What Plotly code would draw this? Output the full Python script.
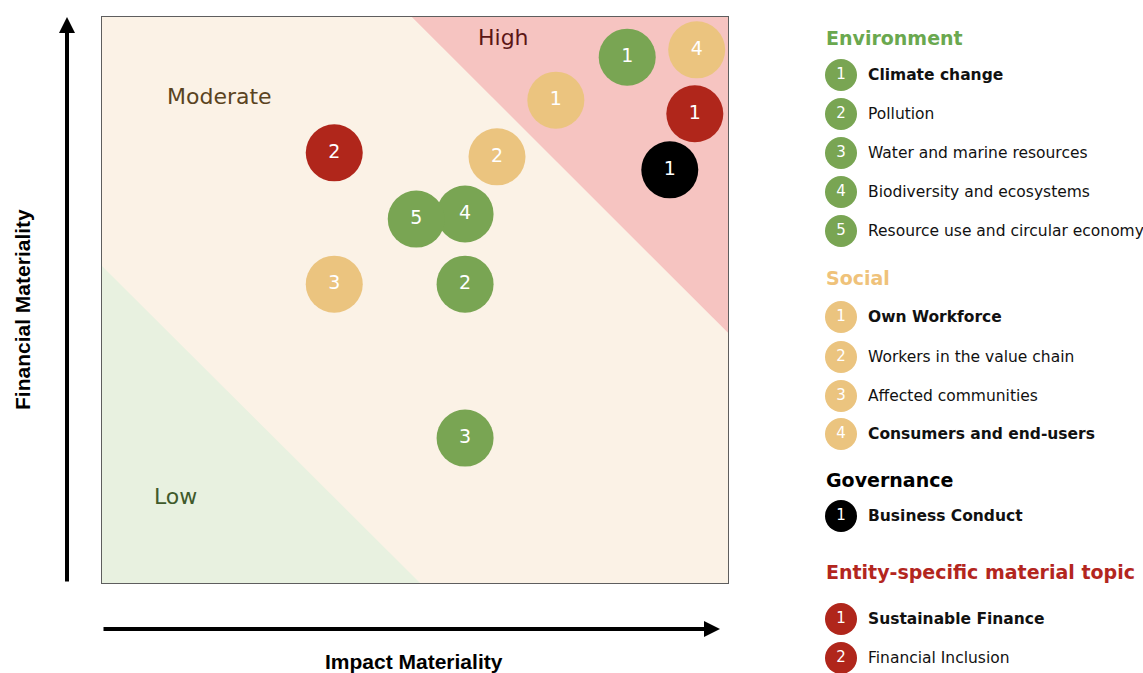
import plotly.graph_objects as go

W, H = 1143, 673

# ---------------- data ----------------
env_ids = ["1", "2", "3", "4", "5"]
env_topics = ["Climate change", "Pollution", "Water and marine resources",
              "Biodiversity and ecosystems", "Resource use and circular economy"]
env_bold = [True, False, False, False, False]
env_x = [8.39, 5.80, 5.80, 5.80, 5.02]
env_y = [9.29, 5.28, 2.56, 6.52, 6.43]

soc_ids = ["1", "2", "3", "4"]
soc_topics = ["Own Workforce", "Workers in the value chain", "Affected communities",
              "Consumers and end-users"]
soc_bold = [True, False, False, True]
soc_x = [7.25, 6.31, 3.71, 9.50]
soc_y = [8.53, 7.53, 5.28, 9.42]

gov_ids = ["1"]
gov_topics = ["Business Conduct"]
gov_bold = [True]
gov_x = [9.07]
gov_y = [7.30]

ent_ids = ["1", "2"]
ent_topics = ["Sustainable Finance", "Financial Inclusion"]
ent_bold = [True, False]
ent_x = [9.47, 3.71]
ent_y = [8.29, 7.60]

zone_labels = ["Low", "Moderate", "High"]

# ---------------- styles ----------------
C_ENV = "#79a553"
C_SOC = "#ebc47f"
C_GOV = "#000000"
C_ENT = "#b0261b"
C_ENV_H = "#6aa84f"
C_SOC_H = "#efc27a"
C_ENT_H = "#b3261e"

BG_MOD = "#fbf2e6"
BG_HIGH = "#f6c4c1"
BG_LOW = "#e8f1e0"

# plot area in pixels
PL, PR, PT, PB = 102, 728, 17, 583

fig = go.Figure()

groups = [
    (env_x, env_y, env_ids, C_ENV),
    (soc_x, soc_y, soc_ids, C_SOC),
    (gov_x, gov_y, gov_ids, C_GOV),
    (ent_x, ent_y, ent_ids, C_ENT),
]
for gx, gy, gid, col in groups:
    fig.add_trace(go.Scatter(
        x=gx, y=gy, text=gid, mode="markers+text",
        marker=dict(size=57, color=col, line=dict(width=0)),
        textposition="middle center",
        textfont=dict(family="DejaVu Sans", size=19, color="white"),
        hoverinfo="skip", showlegend=False, xaxis="x", yaxis="y",
        cliponaxis=False,
    ))

# ---------------- legend (page-pixel axis x2/y2) ----------------
LX_C = 841   # circle centre x
LX_T = 866   # text start x
HX = 824     # header x

legend_blocks = [
    ("Environment", C_ENV_H, 38, env_ids, env_topics, env_bold, C_ENV,
     [75, 114, 153, 192, 231]),
    ("Social", C_SOC_H, 278, soc_ids, soc_topics, soc_bold, C_SOC,
     [317, 357, 396, 434]),
    ("Governance", "#000000", 480, gov_ids, gov_topics, gov_bold, C_GOV,
     [516]),
    ("Entity-specific material topic", C_ENT_H, 572, ent_ids, ent_topics, ent_bold, C_ENT,
     [619, 658]),
]

annotations = []
for head, hcol, hy, ids, topics, bold, col, ys in legend_blocks:
    annotations.append(dict(
        x=HX, y=hy, xref="x2", yref="y2", text="<b>%s</b>" % head,
        showarrow=False, xanchor="left", yanchor="middle",
        font=dict(family="DejaVu Sans", size=19, color=hcol)))
    fig.add_trace(go.Scatter(
        x=[LX_C] * len(ids), y=ys, text=ids, mode="markers+text",
        marker=dict(size=32, color=col, line=dict(width=0)),
        textposition="middle center",
        textfont=dict(family="DejaVu Sans", size=15, color="white"),
        hoverinfo="skip", showlegend=False, xaxis="x2", yaxis="y2",
        cliponaxis=False,
    ))
    for t, b, yy in zip(topics, bold, ys):
        annotations.append(dict(
            x=LX_T, y=yy, xref="x2", yref="y2",
            text=("<b>%s</b>" % t) if b else t,
            showarrow=False, xanchor="left", yanchor="middle",
            font=dict(family="DejaVu Sans", size=15.5, color="#111111")))

# zone labels
zone_pos = [(1.18, 1.52, "#3f5a2b"), (1.88, 8.59, "#5a4321"), (6.41, 9.63, "#5c1616")]
for lab, (zx, zy, zc) in zip(zone_labels, zone_pos):
    annotations.append(dict(
        x=zx, y=zy, xref="x", yref="y", text=lab, showarrow=False,
        xanchor="center", yanchor="middle",
        font=dict(family="DejaVu Sans", size=22, color=zc)))

# axis titles
annotations.append(dict(
    x=414, y=661, xref="x2", yref="y2", text="<b>Impact Materiality</b>",
    showarrow=False, xanchor="center", yanchor="middle",
    font=dict(family="Liberation Sans", size=21, color="black")))
annotations.append(dict(
    x=22, y=310, xref="x2", yref="y2", text="<b>Financial Materiality</b>",
    showarrow=False, xanchor="center", yanchor="middle", textangle=-90,
    font=dict(family="Liberation Sans", size=21, color="black")))

# arrows
annotations.append(dict(
    x=67, y=17, ax=67, ay=583, xref="x2", yref="y2", axref="x2", ayref="y2",
    text="", showarrow=True, arrowhead=2, arrowsize=0.8, arrowwidth=4,
    arrowcolor="black"))
annotations.append(dict(
    x=720, y=629, ax=102, ay=629, xref="x2", yref="y2", axref="x2", ayref="y2",
    text="", showarrow=True, arrowhead=2, arrowsize=0.8, arrowwidth=4,
    arrowcolor="black"))

# ---------------- zones (shapes in main axis) ----------------
shapes = [
    dict(type="rect", xref="x", yref="y", x0=0, y0=0, x1=10, y1=10,
         fillcolor=BG_MOD, line=dict(width=0), layer="below"),
    dict(type="path", xref="x", yref="y", path="M 4.95 10 L 10 10 L 10 4.42 Z",
         fillcolor=BG_HIGH, line=dict(width=0), layer="below"),
    dict(type="path", xref="x", yref="y", path="M 0 5.60 L 5.08 0 L 0 0 Z",
         fillcolor=BG_LOW, line=dict(width=0), layer="below"),
]

fig.update_layout(
    width=W, height=H,
    margin=dict(l=0, r=0, t=0, b=0),
    paper_bgcolor="white",
    plot_bgcolor="rgba(0,0,0,0)",
    xaxis=dict(domain=[PL / W, PR / W], range=[0, 10], showgrid=False,
               zeroline=False, showticklabels=False, ticks="",
               showline=True, mirror=True, linecolor="#5e5e5e", linewidth=1,
               fixedrange=True),
    yaxis=dict(domain=[(H - PB) / H, (H - PT) / H], range=[0, 10], showgrid=False,
               zeroline=False, showticklabels=False, ticks="",
               showline=True, mirror=True, linecolor="#5e5e5e", linewidth=1,
               fixedrange=True),
    xaxis2=dict(domain=[0, 1], range=[0, W], visible=False, anchor="y2",
                fixedrange=True),
    yaxis2=dict(domain=[0, 1], range=[H, 0], visible=False, anchor="x2",
                fixedrange=True),
    shapes=shapes,
    annotations=annotations,
    showlegend=False,
)

fig.write_html("out.html", config={"displayModeBar": False})
